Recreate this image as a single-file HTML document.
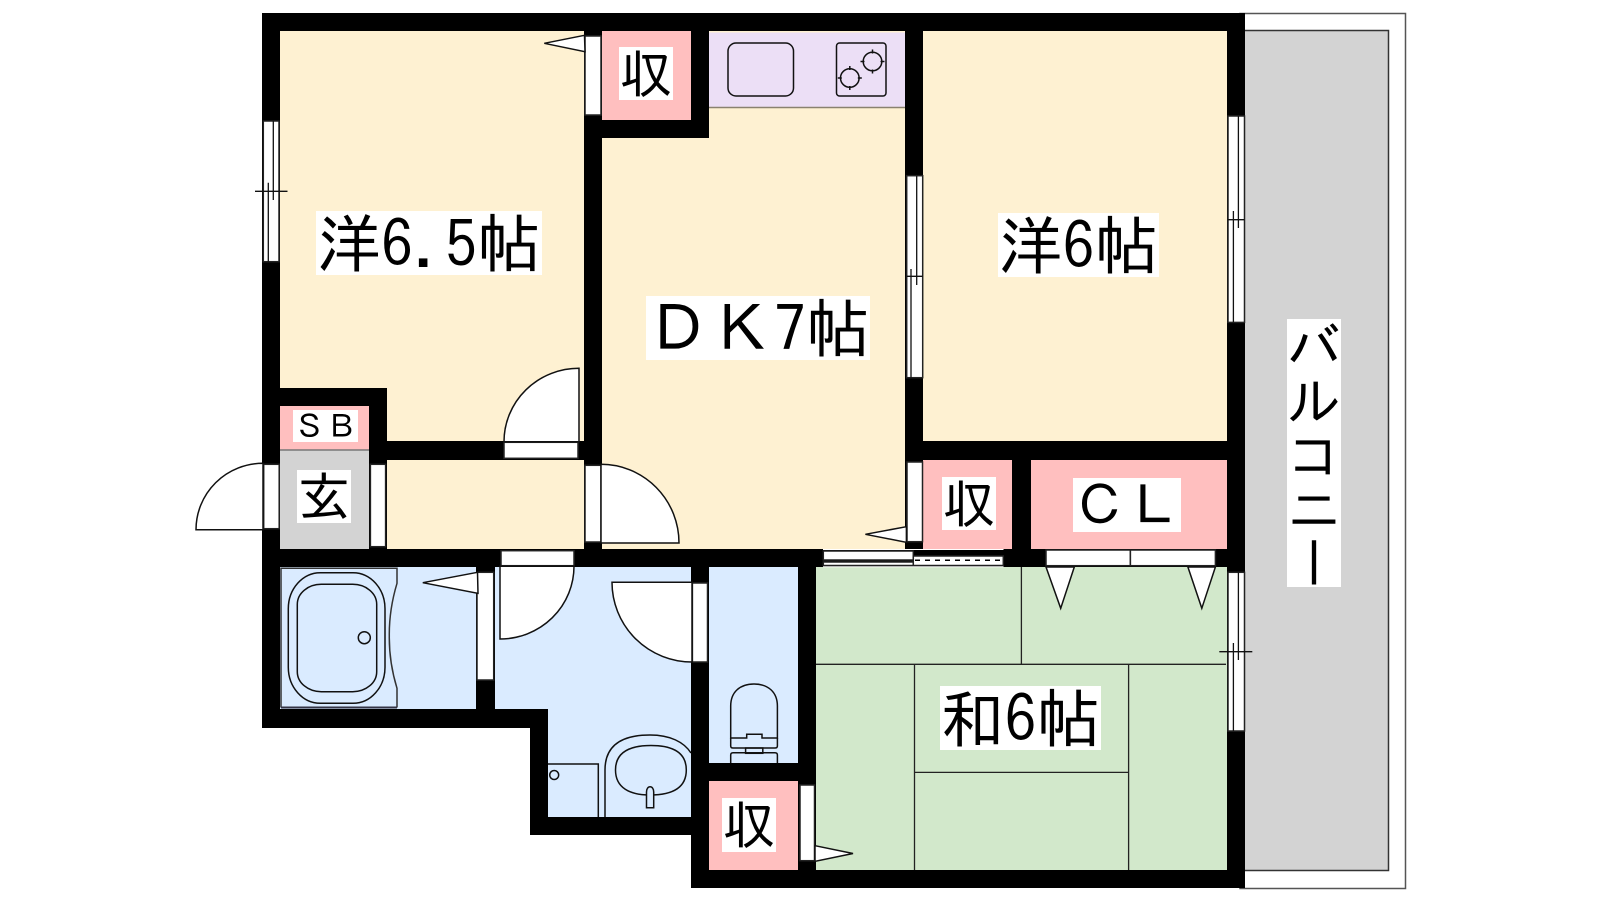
<!DOCTYPE html>
<html lang="ja"><head><meta charset="utf-8"><title>間取り図</title>
<style>
html,body{margin:0;padding:0;background:#fff}
#p{position:relative;width:1600px;height:900px;overflow:hidden;background:#fff}
svg{position:absolute;left:0;top:0}
.l{position:absolute;background:#fff;color:#000;font-family:"IPAGothic","Noto Sans CJK JP",sans-serif;white-space:nowrap;text-align:center;overflow:hidden}
</style></head><body><div id="p">
<svg width="1600" height="900" viewBox="0 0 1600 900" xmlns="http://www.w3.org/2000/svg">
<!-- balcony -->
<rect x="1240" y="13.5" width="165.5" height="875" fill="#fff" stroke="#555" stroke-width="1.5"/>
<rect x="1240" y="30.5" width="148.5" height="840" fill="#d3d3d3" stroke="#333" stroke-width="1.5"/>
<!-- black building mass -->
<path d="M262 13H1245V888H691V835H530V728H262Z" fill="#000"/>
<!-- rooms -->
<g fill="#fef1d2">
<path d="M280 31H584V441H387V388H280Z"/>
<rect x="387" y="460" width="197" height="89"/>
<path d="M602 138H709V31H905V549H602Z"/>
<rect x="923" y="31" width="304" height="410"/>
</g>
<g fill="#ffbfbf">
<rect x="602" y="31" width="89" height="89"/>
<rect x="280" y="406" width="89" height="44"/>
<rect x="923" y="460" width="89" height="89"/>
<rect x="1031" y="460" width="196" height="89"/>
<rect x="709" y="781" width="89" height="89"/>
</g>
<rect x="280" y="450" width="89" height="99" fill="#d3d3d3"/>
<line x1="280" y1="450" x2="369" y2="450" stroke="#777" stroke-width="1.5"/>
<rect x="709" y="32.5" width="196" height="75" fill="#ecdff6"/>
<line x1="709" y1="107.5" x2="905" y2="107.5" stroke="#8a8270" stroke-width="1.5"/>
<g fill="#daebff">
<rect x="280" y="567" width="196" height="142"/>
<path d="M495 567H691V817H548V709H495Z"/>
<rect x="709" y="567" width="89" height="196"/>
</g>
<rect x="816" y="567" width="411" height="303" fill="#d2e8cb"/>

<g fill="none" stroke="#111" stroke-width="1.5">
<!-- kitchen -->
<rect x="728" y="43" width="65.5" height="53" rx="8"/>
<rect x="836.5" y="43" width="49.5" height="53" rx="3"/>
<circle cx="872.5" cy="61.5" r="9.3"/>
<circle cx="849.8" cy="78" r="9.3"/>
<path d="M872.5 49.5v4M872.5 69.5v4M860.5 61.5h4M880.5 61.5h4M849.8 66v4M849.8 86v4M837.8 78h4M857.8 78h4"/>
<!-- tatami -->
<path d="M1021.4 567V664.3M816 664.3H1226M914.5 664.3V870M1128.6 664.3V870M914.5 772.4H1128.6" stroke="#222" stroke-width="1.3"/>
<!-- bath -->
<path d="M281 707.5V568.3H397V583.3Q389 610 389.3 636Q389 662 397 688.3V707.5" stroke="#333"/>
<line x1="281" y1="707.5" x2="397" y2="707.5" stroke="#334" stroke-width="2"/>
<rect x="288.3" y="572.7" width="96.7" height="130.6" rx="32" ry="36"/>
<rect x="297.3" y="584.3" width="79.4" height="107.4" rx="24" ry="20"/>
<circle cx="364.3" cy="637.7" r="6"/>
<!-- wash -->
<path d="M548 764H598.3V817M605 817V770C605 745 622 735 650 735C670 735 684 742 691 753"/>
<path d="M615.5 770C615.5 752 630 745.5 651 745.5C672 745.5 686.3 752 686.3 770C686.3 788 672 795 650 795C630 795 615.5 788 615.5 770Z"/>
<path d="M646.5 807.7V792C646.5 785 653.7 785 653.7 792V807.7Z" fill="#daebff"/>
<circle cx="554.2" cy="775" r="4.5"/>
<!-- toilet -->
<path d="M730.7 738V706C730.7 692 740 684 754 684C768 684 777.4 692 777.4 706V738H762V734.3H746.7V738Z"/>
<path d="M730.7 738V746Q730.7 748 733 748H775Q777.4 748 777.4 746V738"/>
<rect x="745.6" y="748" width="17.2" height="5.3"/>
<path d="M730.7 763V755Q730.7 752.7 733 752.7H775Q777.4 752.7 777.4 755V763"/>
</g>

<!-- white door / window panels -->
<g fill="#fff" stroke="#222" stroke-width="1.5">
<!-- top closet -->
<rect x="585" y="36" width="16" height="79"/>
<path d="M584.5 35.3L544.3 43.3L585 51.7Z" stroke="#111"/>
<!-- left window -->
<rect x="263.3" y="121" width="15.7" height="140.7"/>
<!-- centre window -->
<rect x="906.7" y="175.7" width="16" height="202"/>
<!-- right windows -->
<rect x="1228" y="116" width="16.5" height="206.4"/>
<rect x="1228" y="572.3" width="16.5" height="158.7"/>
<!-- room door -->
<rect x="504" y="442.3" width="74" height="16"/>
<path d="M579 441.7V368.3A75 73.4 0 0 0 504 441.7Z" stroke="#111"/>
<!-- entry -->
<rect x="263.7" y="464.3" width="15.5" height="64.4"/>
<path d="M263 529.7V463.3A67 66.4 0 0 0 196 529.7Z" stroke="#111"/>
<rect x="370.4" y="464.3" width="15.2" height="82.4"/>
<!-- DK door -->
<rect x="585" y="465.3" width="16" height="76.7"/>
<path d="M601 543V464.3A78 78.7 0 0 1 679 543Z" stroke="#111"/>
<!-- DK closet -->
<rect x="907" y="462" width="15.5" height="79.7"/>
<path d="M906.4 526.7L865.4 534.3L906.4 542.3Z" stroke="#111"/>
<!-- bath door -->
<rect x="501" y="550.7" width="73" height="15"/>
<path d="M500 639V566.3H574A74 72.7 0 0 1 500 639Z" stroke="#111"/>
<rect x="477" y="572.3" width="16.7" height="107.7"/>
<path d="M477.5 572.3L422.8 582.7L478 593.3Z" stroke="#111"/>
<!-- toilet door -->
<rect x="692.4" y="583" width="15.1" height="79"/>
<path d="M612 582.3H692V662A80 79.7 0 0 1 612 582.3Z" stroke="#111"/>
<!-- sliding -->
<rect x="823.3" y="551" width="90" height="9"/>
<rect x="823.3" y="562" width="90" height="3.5"/>
<rect x="913.3" y="556" width="90" height="9.5"/>
<!-- CL doors -->
<rect x="1046" y="550" width="84.4" height="15.7"/>
<rect x="1130.4" y="550" width="85" height="15.7"/>
<path d="M1046 567L1060.7 608.3L1074.3 567Z" stroke="#111"/>
<path d="M1187.9 567L1201.8 608.3L1215.4 567Z" stroke="#111"/>
<!-- bottom closet -->
<rect x="800" y="785" width="14.5" height="75.7"/>
<path d="M815 845.7L853 853.5L815 861.3Z" stroke="#111"/>
</g>
<line x1="915" y1="560.3" x2="1003" y2="560.3" stroke="#000" stroke-width="1.5" stroke-dasharray="5 5"/>
<rect x="823" y="549" width="180.5" height="1" fill="#fff"/>
<rect x="823" y="566.3" width="180.5" height="1" fill="#fff"/>

<!-- window inner lines and crosses -->
<g stroke="#111" stroke-width="1.3" fill="none">
<path d="M255 191.3H287.5M273.3 121V200M268.3 182.7V261.7"/>
<path d="M906.7 276.3H922.7M916.7 175.7V285M911 269V377.7"/>
<path d="M1228 219.7H1244.5M1238.4 116V228M1233.4 211V322.4"/>
<path d="M1219.3 651.7H1252.3M1238.4 572.3V660M1233.4 643V731"/>
</g>
</svg>

<div class="l" style="left:316px;top:211px;width:226px;height:64px;line-height:64px;font-size:64px">洋6.5帖</div>
<div class="l" style="left:998px;top:213px;width:161px;height:64px;line-height:64px;font-size:64px">洋6帖</div>
<div class="l" style="left:646px;top:296px;width:224px;height:64px;line-height:64px;font-size:64px">ＤＫ7帖</div>
<div class="l" style="left:940px;top:686px;width:161px;height:64px;line-height:64px;font-size:64px">和6帖</div>
<div class="l" style="left:619px;top:47px;width:54px;height:53px;line-height:53px;font-size:53px">収</div>
<div class="l" style="left:942px;top:477px;width:54px;height:53px;line-height:53px;font-size:53px">収</div>
<div class="l" style="left:722px;top:798px;width:54px;height:54px;line-height:54px;font-size:53px">収</div>
<div class="l" style="left:297px;top:470px;width:54px;height:53px;line-height:53px;font-size:53px">玄</div>
<div class="l" style="left:293px;top:410px;width:65px;height:32px;line-height:32px;font-size:32px">ＳＢ</div>
<div class="l" style="left:1073px;top:478px;width:108px;height:54px;line-height:54px;font-size:54px">ＣＬ</div>
<div class="l" style="left:1287px;top:319px;width:54px;height:268px;line-height:54px;font-size:54px;writing-mode:vertical-rl">バルコニー</div>
</div></body></html>
